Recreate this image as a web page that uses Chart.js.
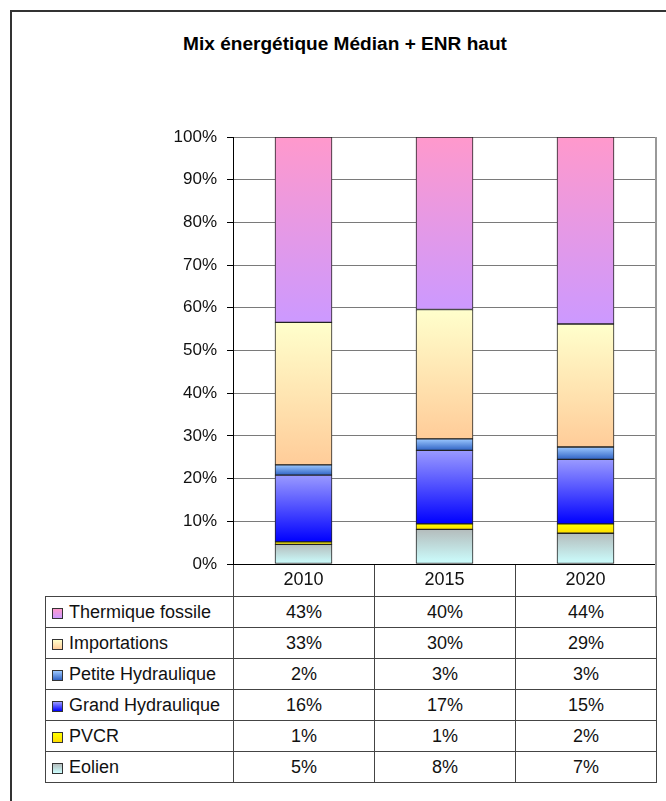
<!DOCTYPE html>
<html>
<head>
<meta charset="utf-8">
<script src="https://cdn.jsdelivr.net/npm/chart.js@4.4.0/dist/chart.umd.min.js"></script>
<style>
  body { margin: 0; background: #fff; overflow: hidden; font-family: "Liberation Sans", Arial, sans-serif; }
  #cadre { position: absolute; left: 10px; top: 10px; width: 720px; height: 840px; border-left: 2px solid #333; border-top: 2px solid #333; }
  #titre { position: absolute; left: 0; top: 34px; width: 690px; line-height: 20px; text-align: center; font-weight: bold; font-size: 18px; color: #000; transform: scaleX(1.06); }
  #zone { position: absolute; left: 0; top: 0; width: 666px; height: 596px; }
  #tableau { position: absolute; left: 45px; top: 596px; border-collapse: collapse; font-size: 18px; color: #111; table-layout: fixed; }
  #tableau td { height: 30px; border: 1px solid #444; padding: 0; text-align: center; white-space: nowrap; }
  #tableau td.nom { text-align: left; }
  .cle { display: inline-block; width: 9px; height: 9px; border: 1px solid #333; margin: 0 6px 0 6px; vertical-align: -1px; }
</style>
</head>
<body>
<div id="cadre"></div>
<div id="titre">Mix énergétique Médian + ENR haut</div>
<div id="zone"><canvas id="graphique" width="666" height="596"></canvas></div>
<table id="tableau"></table>
<script>
// Données (parts en %)
const annees = ['2010', '2015', '2020'];
const sources = ['Eolien', 'PVCR', 'Grand Hydraulique', 'Petite Hydraulique', 'Importations', 'Thermique fossile'];
const eolien = [4.6, 8.1, 7.2];
const pvcr = [0.6, 1.3, 2.2];
const grandHydraulique = [15.6, 17.2, 15.1];
const petiteHydraulique = [2.4, 2.7, 2.9];
const importations = [33.4, 30.3, 28.8];
const thermique = [43.4, 40.4, 43.8];
const series = [eolien, pvcr, grandHydraulique, petiteHydraulique, importations, thermique];

// dégradés : couleur du haut -> couleur du bas
const couleursHaut = ['#b4bcbc', '#ffff00', '#9a9aff', '#9cc8ff', '#ffffcc', '#ff99cc'];
const couleursBas = ['#ccffff', '#ffdd00', '#0000ff', '#2f62c4', '#ffcc99', '#cc99ff'];

function degrade(ctx, iSerie) {
  const chart = ctx.chart;
  const y = chart.scales.y;
  if (!y || ctx.type !== 'data') return couleursBas[iSerie];
  const i = ctx.dataIndex;
  let bas = 0;
  for (let k = 0; k < iSerie; k++) bas += series[k][i];
  const haut = bas + series[iSerie][i];
  const y1 = y.getPixelForValue(haut);
  const y2 = y.getPixelForValue(bas);
  if (!isFinite(y1) || !isFinite(y2) || y1 === y2) return couleursBas[iSerie];
  const g = chart.ctx.createLinearGradient(0, y1, 0, y2);
  g.addColorStop(0, couleursHaut[iSerie]);
  g.addColorStop(1, couleursBas[iSerie]);
  return g;
}

// bord droit de la zone de tracé
const bordDroit = {
  id: 'bordDroit',
  afterDraw(chart) {
    const a = chart.chartArea;
    const c = chart.ctx;
    c.save();
    c.strokeStyle = '#999';
    c.lineWidth = 2;
    c.beginPath();
    c.moveTo(a.right, a.top);
    c.lineTo(a.right, a.bottom + 32);
    c.stroke();
    c.restore();
  }
};

Chart.defaults.font.family = "'Liberation Sans', Arial, sans-serif";
Chart.defaults.font.size = 17;
Chart.defaults.color = '#111';

new Chart(document.getElementById('graphique').getContext('2d'), {
  type: 'bar',
  data: {
    labels: annees,
    datasets: series.map((valeurs, s) => ({
      label: sources[s],
      data: valeurs,
      backgroundColor: ctx => degrade(ctx, s),
      borderColor: '#222',
      borderWidth: 1,
      borderSkipped: false,
      barThickness: 57
    }))
  },
  options: {
    responsive: false,
    animation: false,
    layout: { padding: { top: 137, left: 0, right: 10, bottom: 0 } },
    plugins: {
      legend: { display: false },
      tooltip: { enabled: false }
    },
    scales: {
      x: {
        stacked: true,
        afterFit: s => { s.height = 32; },
        border: { color: '#000', width: 1 },
        grid: { offset: true, drawOnChartArea: false, tickLength: 32, color: '#444' },
        ticks: { padding: -27, font: { size: 18 } }
      },
      y: {
        stacked: true,
        min: 0,
        max: 100,
        afterFit: s => { s.width = 233; },
        border: { color: '#000', width: 1 },
        grid: { color: '#7a7a7a', tickLength: 6, tickColor: '#000' },
        ticks: { stepSize: 10, padding: 10, callback: v => v + '%' }
      }
    }
  },
  plugins: [bordDroit]
});

// tableau de données sous le graphique (ordre inverse : Thermique en haut)
const tableau = document.getElementById('tableau');
const colgroup = document.createElement('colgroup');
[188, 141, 141, 141].forEach(w => {
  const col = document.createElement('col');
  col.style.width = w + 'px';
  colgroup.appendChild(col);
});
tableau.appendChild(colgroup);
for (let s = series.length - 1; s >= 0; s--) {
  const tr = document.createElement('tr');
  const tdNom = document.createElement('td');
  tdNom.className = 'nom';
  const cle = document.createElement('span');
  cle.className = 'cle';
  cle.style.background = `linear-gradient(${couleursHaut[s]}, ${couleursBas[s]})`;
  tdNom.appendChild(cle);
  tdNom.appendChild(document.createTextNode(sources[s]));
  tr.appendChild(tdNom);
  series[s].forEach(v => {
    const td = document.createElement('td');
    td.textContent = Math.round(v) + '%';
    tr.appendChild(td);
  });
  tableau.appendChild(tr);
}
</script>
</body>
</html>
